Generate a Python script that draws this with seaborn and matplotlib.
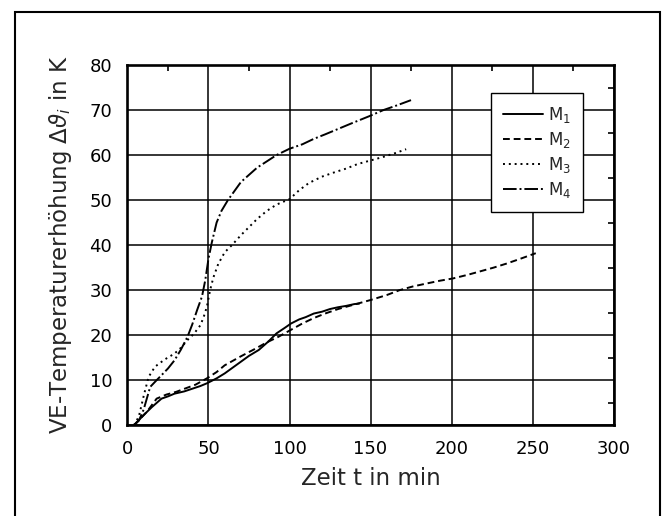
import numpy as np
import pandas as pd
import seaborn as sns
import matplotlib.pyplot as plt
from matplotlib.patches import Rectangle
from matplotlib.ticker import MultipleLocator

# Messkurven (Zeit in min, Temperaturerhoehung in K)
t_m1 = [4, 8, 11, 15, 21, 25, 29, 35, 40, 45, 49, 55, 60, 65, 70, 75, 81, 87, 92, 97, 101, 106, 110, 115, 120, 125, 130, 135, 140, 143]
y_m1 = [0, 1.5, 2.6, 4.0, 5.9, 6.4, 7.0, 7.5, 8.1, 8.7, 9.3, 10.4, 11.5, 12.8, 14.1, 15.4, 16.7, 18.6, 20.4, 21.6, 22.6, 23.5, 24.0, 24.8, 25.2, 25.8, 26.2, 26.5, 26.9, 27.0]

t_m2 = [4, 8, 12, 18, 24, 30, 36, 42, 49, 55, 60, 70, 79, 86, 93, 100, 108, 115, 122, 130, 140, 150, 160, 168, 176, 185, 193, 201, 210, 218, 226, 234, 242, 252]
y_m2 = [0, 1.5, 3.0, 5.9, 6.8, 7.4, 8.2, 9.0, 10.4, 11.8, 13.3, 15.3, 17.0, 18.4, 19.6, 21.0, 22.6, 23.8, 24.8, 25.8, 26.8, 27.8, 28.9, 30.0, 30.8, 31.5, 32.1, 32.6, 33.4, 34.2, 35.0, 35.9, 36.9, 38.2]

t_m3 = [4, 7, 10, 13, 17, 23, 29, 33, 37, 41, 45, 47, 49, 51, 53, 56, 60, 65, 70, 75, 80, 86, 92, 100, 106, 112, 120, 128, 135, 142, 150, 158, 165, 172]
y_m3 = [0, 1.9, 6.5, 10.7, 13.0, 14.6, 15.9, 17.2, 18.9, 20.3, 22.2, 24.0, 26.3, 30.0, 32.8, 35.8, 38.4, 40.2, 42.2, 44.0, 45.8, 47.6, 49.0, 50.2, 52.2, 53.8, 55.2, 56.2, 57.0, 58.0, 58.8, 59.6, 60.4, 61.3]

t_m4 = [4, 7, 10, 14, 18, 21, 25, 29, 33, 37, 40, 43, 46, 48, 50, 52, 55, 58, 62, 66, 70, 75, 80, 86, 92, 100, 108, 115, 122, 130, 138, 149, 158, 166, 175]
y_m4 = [0, 1.0, 3.5, 8.5, 10.0, 11.1, 12.6, 14.4, 16.8, 19.6, 22.4, 25.6, 28.6, 32.2, 37.0, 40.5, 45.0, 47.6, 50.0, 52.0, 54.0, 55.6, 57.2, 58.6, 60.0, 61.4, 62.4, 63.6, 64.6, 65.8, 67.0, 68.6, 70.0, 71.0, 72.2]

labels = [r"M$_1$", r"M$_2$", r"M$_3$", r"M$_4$"]

parts = []
for lab, t, y in zip(labels, [t_m1, t_m2, t_m3, t_m4], [y_m1, y_m2, y_m3, y_m4]):
    parts.append(pd.DataFrame({"t": t, "dT": y, "Messung": lab}))
df = pd.concat(parts, ignore_index=True)

sns.set_style("white")
plt.rcParams["font.family"] = ["DejaVu Sans"]
plt.rcParams["mathtext.fontset"] = "dejavusans"

fig = plt.figure(figsize=(6.64, 5.16), dpi=100)
ax = fig.add_axes([0.192, 0.176, 0.732, 0.698])

dash_map = {labels[0]: "", labels[1]: (3.5, 2), labels[2]: (1, 2), labels[3]: (7, 1.5, 1, 1.5)}
sns.lineplot(data=df, x="t", y="dT", style="Messung", dashes=dash_map, color="black",
             linewidth=1.4, sort=False, estimator=None, ax=ax)

ax.set_xlim(0, 300)
ax.set_ylim(0, 80)
ax.xaxis.set_major_locator(MultipleLocator(50))
ax.xaxis.set_minor_locator(MultipleLocator(25))
ax.yaxis.set_major_locator(MultipleLocator(10))
ax.yaxis.set_minor_locator(MultipleLocator(5))
ax.tick_params(which="both", direction="in", top=True, right=True, colors="black")
ax.tick_params(which="major", length=0, labelsize=13, pad=11)
ax.tick_params(which="minor", length=4, width=1.2)
ax.grid(True, which="major", color="black", linewidth=1.1)
for s in ax.spines.values():
    s.set_color("black")
    s.set_linewidth(1.9)

ax.set_xlabel("Zeit t in min", fontsize=16.5, labelpad=6)
ax.set_ylabel(r"VE-Temperaturerhöhung $\Delta\vartheta_i$ in K", fontsize=16.5, labelpad=11)

leg = ax.legend(loc="upper left", bbox_to_anchor=(0.748, 0.922), borderaxespad=0,
                fontsize=12, handlelength=2.4, labelspacing=0.3, frameon=True,
                fancybox=False, borderpad=0.72, handletextpad=0.3, title=None)
leg.get_frame().set_edgecolor("black")
leg.get_frame().set_linewidth(1.0)
leg.get_frame().set_alpha(1)

# aeusserer Rahmen
fig.add_artist(Rectangle((0.0226, -0.05), 0.971, 1.027, transform=fig.transFigure,
                         fill=False, edgecolor="black", linewidth=1.5))

fig.savefig("out.png", dpi=100)
